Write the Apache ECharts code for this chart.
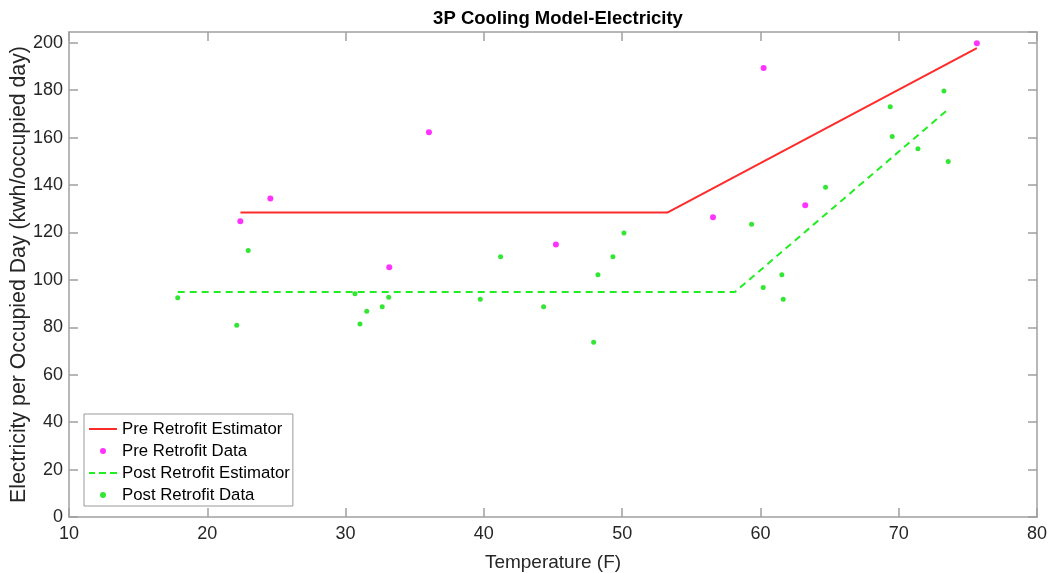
<!DOCTYPE html>
<html>
<head>
<meta charset="utf-8">
<script src="https://cdn.jsdelivr.net/npm/echarts@6/dist/echarts.min.js"></script>
<style>
html,body{margin:0;padding:0;background:#fff;}
#chart{width:1050px;height:573px;}
</style>
</head>
<body>
<div id="chart"></div>
<script>
// ---- data ----
const titleText = '3P Cooling Model-Electricity';
const xAxisName = 'Temperature (F)';
const yAxisName = 'Electricity per Occupied Day (kwh/occupied day)';
const seriesNames = ['Pre Retrofit Estimator', 'Pre Retrofit Data', 'Post Retrofit Estimator', 'Post Retrofit Data'];

const preEstimator = [[22.4, 128.4], [53.3, 128.4], [75.65, 197.7]];
const preData = [
  [22.39, 124.7], [24.56, 134.3], [36.03, 162.2], [33.16, 105.3], [45.21, 114.9],
  [56.57, 126.4], [60.23, 189.3], [63.24, 131.5], [75.65, 199.8]
];
const postEstimator = [[17.86, 94.9], [58.16, 94.9], [73.58, 171.9]];
const postData = [
  [17.86, 92.4], [22.13, 80.9], [22.96, 112.4], [30.68, 94.1], [31.04, 81.4],
  [31.53, 86.8], [32.65, 88.6], [33.12, 92.7], [39.74, 91.8], [41.21, 109.7],
  [44.32, 88.6], [47.94, 73.7], [48.25, 102.1], [49.33, 109.7], [50.13, 119.7],
  [59.36, 123.4], [60.20, 96.8], [61.55, 102.1], [61.65, 91.8], [64.71, 139.0],
  [69.39, 173.0], [69.53, 160.4], [71.39, 155.3], [73.27, 179.6], [73.58, 149.9]
];
const xRange = [10, 80, 10];
const yRange = [0, 204.5, 20];

// ---- chart ----
const FONT = '"Liberation Sans", Arial, Helvetica, sans-serif';
const axisCol = '#a0a0a0';
const textCol = '#262626';
const chart = echarts.init(document.getElementById('chart'), null, {renderer: 'canvas'});

const baseAxis = {
  axisLine: {show: true, onZero: false, lineStyle: {color: axisCol, width: 1.5}},
  axisTick: {show: true, inside: true, length: 9, lineStyle: {color: axisCol, width: 1.5}},
  splitLine: {show: false}
};

const solidIcon = 'path://M0,0H28V2H0Z';
const dashIcon = 'path://M0,0H6V2H0Z M10,0H17V2H10Z M21,0H28V2H21Z';

chart.setOption({
  animation: false,
  backgroundColor: '#fff',
  title: {
    text: titleText,
    left: 553, textAlign: 'center', top: 4,
    textStyle: {fontFamily: FONT, fontSize: 18.5, fontWeight: 'bold', color: '#000'}
  },
  grid: {left: 69, right: 13, top: 32, bottom: 56, containLabel: false, outerBoundsMode: 'none'},
  legend: {
    orient: 'vertical',
    left: 84, top: 414,
    padding: [4, 3, 0, 5],
    itemWidth: 28, itemHeight: 6, itemGap: 0,
    itemTextGap: 0,
    backgroundColor: '#fff',
    borderColor: '#999', borderWidth: 1,
    data: [
      {name: seriesNames[0], icon: solidIcon},
      {name: seriesNames[1], icon: 'circle'},
      {name: seriesNames[2], icon: dashIcon},
      {name: seriesNames[3], icon: 'circle'}
    ],
    textStyle: {fontFamily: FONT, fontSize: 16.8, color: '#000', lineHeight: 22}
  },
  xAxis: [
    Object.assign({}, baseAxis, {
      type: 'value', min: xRange[0], max: xRange[1], interval: xRange[2], position: 'bottom',
      name: xAxisName, nameLocation: 'middle', nameGap: 36, nameMoveOverlap: false,
      nameTextStyle: {fontFamily: FONT, fontSize: 19, color: textCol},
      axisLabel: {margin: 8, fontFamily: FONT, fontSize: 18, color: textCol}
    }),
    Object.assign({}, baseAxis, {
      type: 'value', min: xRange[0], max: xRange[1], interval: xRange[2], position: 'top',
      axisLabel: {show: false}
    })
  ],
  yAxis: [
    Object.assign({}, baseAxis, {
      type: 'value', min: yRange[0], max: yRange[1], interval: yRange[2], position: 'left',
      name: yAxisName, nameLocation: 'middle', nameGap: 39, nameMoveOverlap: false,
      nameTextStyle: {fontFamily: FONT, fontSize: 21.3, color: textCol},
      axisLabel: {margin: 6, fontFamily: FONT, fontSize: 18, color: textCol, showMaxLabel: false}
    }),
    Object.assign({}, baseAxis, {
      type: 'value', min: yRange[0], max: yRange[1], interval: yRange[2], position: 'right',
      axisLabel: {show: false}
    })
  ],
  series: [
    {
      name: seriesNames[0], type: 'line', data: preEstimator,
      showSymbol: false, symbol: 'none',
      lineStyle: {color: '#ff2a2a', width: 2},
      itemStyle: {color: '#ff2a2a'}, z: 3
    },
    {
      name: seriesNames[1], type: 'scatter', data: preData,
      symbol: 'circle', symbolSize: 6,
      itemStyle: {color: '#ff00ff'}, z: 4
    },
    {
      name: seriesNames[2], type: 'line', data: postEstimator,
      showSymbol: false, symbol: 'none',
      lineStyle: {color: '#20ee20', width: 2, type: [7, 5]},
      itemStyle: {color: '#20ee20'}, z: 3
    },
    {
      name: seriesNames[3], type: 'scatter', data: postData,
      symbol: 'circle', symbolSize: 5,
      itemStyle: {color: '#00e000'}, z: 4
    }
  ]
});
</script>
</body>
</html>
